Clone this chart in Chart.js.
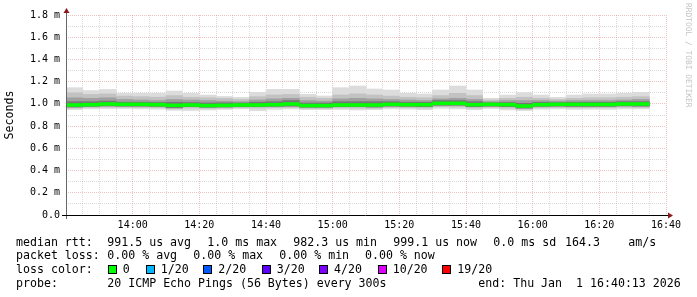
<!DOCTYPE html>
<html>
<head>
<meta charset="utf-8">
<script src="https://cdn.jsdelivr.net/npm/chart.js@4.4.1/dist/chart.umd.min.js"></script>
<style>
  html, body { margin: 0; padding: 0; background: #fff; }
  #wrap { position: relative; width: 697px; height: 297px; overflow: hidden; font-family: 'DejaVu Sans Mono', monospace; }
  #wrap canvas { position: absolute; left: 0; top: 0; }
  .t { position: absolute; white-space: pre; font-size: 11.6px; line-height: 14px; color: #000; }
  .box { position: absolute; width: 9px; height: 9px; border: 1px solid #000; box-sizing: border-box; }
  #credit { position: absolute; left: 683px; top: 3px; writing-mode: vertical-rl; font-size: 7.9px; line-height: 10px; color: #c4c4c4; white-space: pre; }
</style>
</head>
<body>
<div id="wrap">
  <canvas id="chart" width="697" height="297"></canvas>
  <div id="legend"></div>
  <div id="credit">RRDTOOL / TOBI OETIKER</div>
</div>
<script>
// 5 minute columns starting 13:40, values in ms
const STEP = 5
const START = 13 * 60 + 40

const smokeMax = [1.146, 1.120, 1.130, 1.095, 1.095, 1.095, 1.116, 1.095, 1.080, 1.067, 1.059, 1.104, 1.131, 1.131, 1.086, 1.071, 1.146, 1.161, 1.134, 1.125, 1.095, 1.089, 1.125, 1.161, 1.125, 1.050, 1.080, 1.101, 1.080, 1.059, 1.080, 1.089, 1.089, 1.095, 1.104]
const smokeHi1 = [1.100, 1.085, 1.090, 1.070, 1.065, 1.060, 1.075, 1.060, 1.055, 1.050, 1.040, 1.065, 1.080, 1.085, 1.060, 1.050, 1.080, 1.090, 1.080, 1.070, 1.060, 1.055, 1.075, 1.095, 1.075, 1.035, 1.050, 1.060, 1.050, 1.040, 1.050, 1.055, 1.055, 1.060, 1.065]
const smokeHi2 = [1.055, 1.050, 1.055, 1.040, 1.035, 1.030, 1.040, 1.035, 1.030, 1.025, 1.020, 1.035, 1.045, 1.050, 1.030, 1.025, 1.045, 1.050, 1.045, 1.040, 1.035, 1.030, 1.045, 1.050, 1.040, 1.020, 1.030, 1.030, 1.030, 1.025, 1.030, 1.030, 1.030, 1.035, 1.040]
const smokeHi3 = [1.020, 1.020, 1.025, 1.015, 1.015, 1.012, 1.015, 1.012, 1.008, 1.010, 1.008, 1.015, 1.020, 1.030, 1.008, 1.008, 1.020, 1.020, 1.020, 1.020, 1.015, 1.015, 1.030, 1.030, 1.020, 1.010, 1.012, 1.005, 1.015, 1.012, 1.015, 1.015, 1.015, 1.020, 1.020]
const medianRtt = [0.990, 0.993, 0.999, 0.996, 0.996, 0.993, 0.987, 0.990, 0.985, 0.987, 0.990, 0.990, 0.993, 0.999, 0.985, 0.985, 0.990, 0.990, 0.990, 0.996, 0.993, 0.993, 1.005, 1.005, 0.993, 0.996, 0.993, 0.981, 0.993, 0.996, 0.996, 0.995, 0.995, 0.999, 0.999]
const smokeLo3 = [0.972, 0.978, 0.982, 0.980, 0.980, 0.978, 0.965, 0.975, 0.970, 0.972, 0.975, 0.975, 0.978, 0.980, 0.970, 0.970, 0.975, 0.975, 0.972, 0.980, 0.978, 0.975, 0.988, 0.988, 0.975, 0.980, 0.975, 0.962, 0.978, 0.980, 0.978, 0.978, 0.978, 0.982, 0.980]
const smokeLo2 = [0.962, 0.968, 0.970, 0.970, 0.968, 0.966, 0.955, 0.962, 0.960, 0.962, 0.965, 0.962, 0.966, 0.968, 0.960, 0.960, 0.964, 0.962, 0.960, 0.968, 0.966, 0.962, 0.975, 0.972, 0.962, 0.970, 0.962, 0.952, 0.965, 0.968, 0.965, 0.965, 0.966, 0.970, 0.968]
const smokeMin = [0.948, 0.955, 0.958, 0.958, 0.955, 0.952, 0.942, 0.940, 0.945, 0.950, 0.955, 0.938, 0.950, 0.955, 0.948, 0.948, 0.950, 0.945, 0.948, 0.955, 0.952, 0.948, 0.960, 0.955, 0.948, 0.958, 0.945, 0.940, 0.952, 0.955, 0.950, 0.952, 0.950, 0.955, 0.955]

const rttStats = ['991.5 us avg', '1.0 ms max', '982.3 us min', '999.1 us now', '0.0 ms sd', '164.3', 'am/s']
const lossStats = ['0.00 % avg', '0.00 % max', '0.00 % min', '0.00 % now']
const lossLabels = ['0', '1/20', '2/20', '3/20', '4/20', '10/20', '19/20']
const lossColors = ['#00ff00', '#00b8ff', '#0059ff', '#5e00ff', '#7e00ff', '#dd00ff', '#ff0000']
const probeText = '20 ICMP Echo Pings (56 Bytes) every 300s'
const endText = 'end: Thu Jan  1 16:40:13 2026'

// legend layout (pixels)
const lineTops = [234.5, 248, 262, 275.5]
const rttX = [107.3, 207.3, 293.3, 393.3, 493.3, 565, 628.3]
const lossX = [107.3, 193.3, 279.3, 365]
const boxX = [108.3, 145.7, 203.3, 261.7, 319.3, 377.7, 442.3]
const boxLabelX = [122.7, 160.7, 218.3, 276.7, 334, 392.7, 457.3]

const col = (i) => i * STEP + STEP / 2
const band = (lo, hi) => lo.map((v, i) => ({ x: col(i), y: [v, hi[i]] }))
const fmtTime = (m) => {
  const t = START + m
  return `${Math.floor(t / 60)}:${String(t % 60).padStart(2, '0')}`
}

const MGRID = 'rgba(215,120,120,0.45)'
const GRID = 'rgba(160,160,160,0.4)'
const FONT = 'DejaVu Sans Mono'

// axis lines + arrows, rrdtool style
const axisArrows = {
  id: 'axisArrows',
  afterDraw(chart) {
    const { ctx, chartArea: a } = chart
    const x0 = Math.round(a.left) + 0.5
    const y0 = Math.round(a.bottom) + 0.5
    ctx.save()
    ctx.lineWidth = 1
    ctx.strokeStyle = '#666'
    ctx.beginPath(); ctx.moveTo(x0, a.bottom + 4); ctx.lineTo(x0, a.top - 4); ctx.stroke()
    ctx.strokeStyle = '#000'
    ctx.beginPath(); ctx.moveTo(a.left - 4, y0); ctx.lineTo(a.right + 3, y0); ctx.stroke()
    ctx.fillStyle = '#8b1a1a'
    ctx.beginPath(); ctx.moveTo(x0, a.top - 7); ctx.lineTo(x0 - 3, a.top - 2); ctx.lineTo(x0 + 3, a.top - 2); ctx.closePath(); ctx.fill()
    ctx.beginPath(); ctx.moveTo(a.right + 7, y0); ctx.lineTo(a.right + 2, y0 - 3); ctx.lineTo(a.right + 2, y0 + 3); ctx.closePath(); ctx.fill()
    ctx.restore()
  },
}

new Chart(document.getElementById('chart'), {
  type: 'bar',
  data: {
    datasets: [
      { data: band(medianRtt.map((v) => v - 0.013), medianRtt.map((v) => v + 0.013)), backgroundColor: lossColors[0] },
      { data: band(smokeLo3, smokeHi3), backgroundColor: '#777777' },
      { data: band(smokeLo3, smokeHi2), backgroundColor: '#a0a0a0' },
      { data: band(smokeLo2, smokeHi1), backgroundColor: '#c2c2c2' },
      { data: band(smokeMin, smokeMax), backgroundColor: '#dcdcdc' },
    ],
  },
  options: {
    responsive: false,
    devicePixelRatio: 1,
    animation: false,
    layout: { padding: { left: 0, right: 31, top: 15, bottom: 0 } },
    plugins: { legend: { display: false }, tooltip: { enabled: false } },
    datasets: { bar: { grouped: false, barPercentage: 1, categoryPercentage: 1, borderWidth: 0 } },
    scales: {
      x: {
        type: 'linear',
        min: 0, max: 180,
        offset: false,
        z: 1,
        grid: { offset: false, drawTicks: false, color: (c) => (c.tick.value % 20 === 0 ? MGRID : GRID) },
        border: { display: false, dash: [1, 1] },
        ticks: {
          stepSize: 5, autoSkip: false, maxRotation: 0, minRotation: 0, padding: 4,
          color: '#000', font: { family: FONT, size: 10 },
          callback: (v) => (v % 20 === 0 && v > 0 ? fmtTime(v) : ''),
        },
        afterFit: (s) => { s.height = 82 },
      },
      y: {
        min: 0, max: 1.8,
        z: 1,
        grid: { drawTicks: false, color: (c) => (Math.round(c.tick.value * 10) % 2 === 0 ? MGRID : GRID) },
        border: { display: false, dash: [1, 1] },
        ticks: {
          stepSize: 0.1, autoSkip: false, padding: 6,
          color: '#000', font: { family: FONT, size: 10 },
          callback: (v) => {
            const n = Math.round(v * 10)
            if (n % 2) return ''
            return n === 0 ? '0.0' : `${(n / 10).toFixed(1)} m`
          },
        },
        title: { display: true, text: 'Seconds', color: '#000', font: { family: FONT, size: 11.6 }, padding: { top: 3, bottom: 0 } },
        afterFit: (s) => { s.width = 66 },
      },
    },
  },
  plugins: [axisArrows],
})

// text legend under the graph
const legendEl = document.getElementById('legend')
const txt = (s, x, y) => `<div class="t" style="left:${x}px;top:${y}px">${s}</div>`
let html = ''
html += txt('median rtt:', 16, lineTops[0])
rttStats.forEach((s, i) => { html += txt(s, rttX[i], lineTops[0]) })
html += txt('packet loss:', 16, lineTops[1])
lossStats.forEach((s, i) => { html += txt(s, lossX[i], lineTops[1]) })
html += txt('loss color:', 16, lineTops[2])
lossLabels.forEach((s, i) => {
  html += `<div class="box" style="left:${boxX[i]}px;top:${lineTops[2] + 2.5}px;background:${lossColors[i]}"></div>`
  html += txt(s, boxLabelX[i], lineTops[2])
})
html += txt('probe:', 16, lineTops[3])
html += txt(probeText, 107.3, lineTops[3])
html += txt(endText, 478.3, lineTops[3])
legendEl.innerHTML = html
</script>
</body>
</html>
